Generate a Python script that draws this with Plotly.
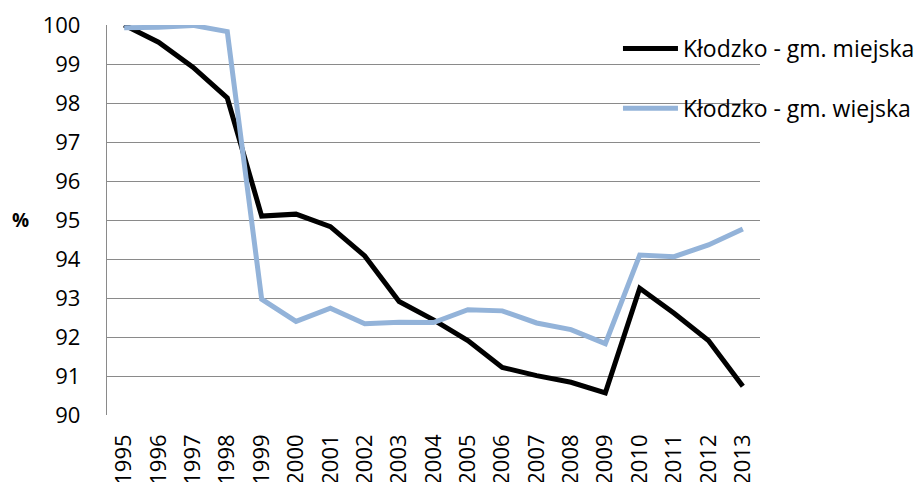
import plotly.graph_objects as go

years = [str(y) for y in range(1995, 2014)]
miejska = [100.0, 99.56, 98.92, 98.13, 95.10, 95.15, 94.83, 94.08, 92.91, 92.44,
           91.91, 91.22, 91.01, 90.84, 90.57, 93.25, 92.61, 91.91, 90.74]
wiejska = [99.93, 99.94, 99.99, 99.83, 92.97, 92.40, 92.74, 92.34, 92.38, 92.37,
           92.70, 92.67, 92.36, 92.19, 91.83, 94.10, 94.06, 94.36, 94.77]
y_ticks = list(range(90, 101))

FONT = "Open Sans"
GRID = "#8a8a8a"

fig = go.Figure()
fig.add_trace(go.Scatter(x=years, y=miejska, mode="lines", name="Kłodzko - gm. miejska",
                         line=dict(color="#000000", width=5), legendgroup="a"))
fig.add_trace(go.Scatter(x=years, y=wiejska, mode="lines", name="Kłodzko - gm. wiejska",
                         line=dict(color="#93B3D9", width=5), legendgroup="b"))

fig.update_layout(
    width=918, height=482,
    margin=dict(l=107, r=158, t=24.5, b=66.5, autoexpand=False),
    paper_bgcolor="white", plot_bgcolor="white",
    font=dict(family=FONT, size=22, color="#000000"),
    showlegend=True,
    legend=dict(x=0.7825, y=0.995, xanchor="left", yanchor="top",
                bgcolor="rgba(0,0,0,0)", tracegroupgap=27, itemwidth=55,
                font=dict(family=FONT, size=23)),
    xaxis=dict(type="category", range=[-0.5, len(years) - 0.5], tickangle=-90,
               showgrid=False, showline=False, automargin=False,
               ticks="", ticklabelstandoff=14,
               tickfont=dict(family=FONT, size=22)),
    yaxis=dict(range=[90, 100], tickvals=y_ticks, showgrid=True, gridcolor=GRID,
               gridwidth=1.3, zeroline=False, showline=True, linecolor=GRID,
               linewidth=1.3, ticks="", ticklabelstandoff=21, automargin=False,
               tickfont=dict(family=FONT, size=22)),
    annotations=[dict(text="<b>%</b>", x=0, xref="paper", xanchor="center", xshift=-87,
                      y=95, yref="y", showarrow=False, font=dict(family=FONT, size=19))],
)
fig.write_html("out.html", config={"displayModeBar": False},
               post_script="document.body.style.margin='0';document.body.style.overflow='hidden';")
